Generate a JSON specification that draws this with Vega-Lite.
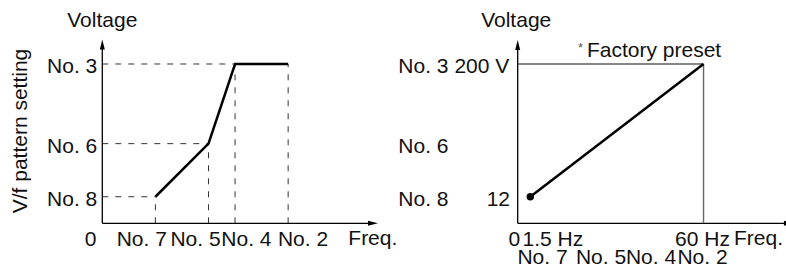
{
  "$schema": "https://vega.github.io/schema/vega-lite/v6.json",
  "width": 786,
  "height": 267,
  "autosize": "none",
  "padding": 0,
  "background": "white",
  "config": {"view": {"stroke": null}, "text": {"font": "Liberation Sans", "fontSize": 21, "color": "#111"}},
  "datasets": {
    "segments": [
      {"x": 0, "y": 0, "x2": 0, "y2": 6.7, "kind": "axis"},
      {"x": 0, "y": 0, "x2": 10.2, "y2": 0, "kind": "axis"},
      {"x": 15.646, "y": 0, "x2": 15.646, "y2": 6.7, "kind": "axis"},
      {"x": 15.646, "y": 0, "x2": 25.9, "y2": 0, "kind": "axis"},
      {"x": 0, "y": 1, "x2": 2, "y2": 1, "kind": "dash"},
      {"x": 0, "y": 3, "x2": 4, "y2": 3, "kind": "dash"},
      {"x": 0, "y": 6, "x2": 5, "y2": 6, "kind": "dash"},
      {"x": 2, "y": 0, "x2": 2, "y2": 1, "kind": "dash"},
      {"x": 4, "y": 0, "x2": 4, "y2": 3, "kind": "dash"},
      {"x": 5, "y": 0, "x2": 5, "y2": 6, "kind": "dash"},
      {"x": 7, "y": 0, "x2": 7, "y2": 6, "kind": "dash"},
      {"x": 15.646, "y": 6, "x2": 22.646, "y2": 6, "kind": "frame"},
      {"x": 22.646, "y": 0, "x2": 22.646, "y2": 6, "kind": "frameGray"}
    ],
    "curves": [
      {"series": "left", "order": 1, "x": 2, "y": 1},
      {"series": "left", "order": 2, "x": 4, "y": 3},
      {"series": "left", "order": 3, "x": 5, "y": 6},
      {"series": "left", "order": 4, "x": 7, "y": 6},
      {"series": "right", "order": 1, "x": 16.121, "y": 1},
      {"series": "right", "order": 2, "x": 22.646, "y": 6}
    ],
    "arrows": [
      {"x": 0, "y": 6.923, "dir": "up"},
      {"x": 10.384, "y": 0, "dir": "right"},
      {"x": 15.646, "y": 6.904, "dir": "up"},
      {"x": 26.05, "y": 0, "dir": "right"}
    ],
    "dots": [
      {"x": 16.121, "y": 1}
    ],
    "labels": [
      {"text": "Voltage", "x": 0, "y": 7.375, "anchor": "middle", "role": "title"},
      {"text": "V/f pattern setting", "x": -2.847, "y": 3.476, "anchor": "middle", "role": "ytitle"},
      {"text": "No. 3", "x": -0.188, "y": 5.642, "anchor": "end", "role": "ylabel"},
      {"text": "No. 6", "x": -0.188, "y": 2.629, "anchor": "end", "role": "ylabel"},
      {"text": "No. 8", "x": -0.188, "y": 0.633, "anchor": "end", "role": "ylabel"},
      {"text": "0", "x": -0.444, "y": -0.855, "anchor": "middle", "role": "xlabel"},
      {"text": "No. 7", "x": 1.488, "y": -0.855, "anchor": "middle", "role": "xlabel"},
      {"text": "No. 5", "x": 3.51, "y": -0.855, "anchor": "middle", "role": "xlabel"},
      {"text": "No. 4", "x": 5.427, "y": -0.855, "anchor": "middle", "role": "xlabel"},
      {"text": "No. 2", "x": 7.559, "y": -0.855, "anchor": "middle", "role": "xlabel"},
      {"text": "Freq.", "x": 9.266, "y": -0.8, "anchor": "start", "role": "xname"},
      {"text": "Voltage", "x": 15.59, "y": 7.375, "anchor": "middle", "role": "title"},
      {"text": "*", "x": 18.011, "y": 6.441, "anchor": "middle", "role": "star"},
      {"text": "Factory preset", "x": 18.256, "y": 6.282, "anchor": "start", "role": "note"},
      {"text": "No. 3", "x": 11.149, "y": 5.642, "anchor": "start", "role": "ylabel"},
      {"text": "200 V", "x": 15.33, "y": 5.642, "anchor": "end", "role": "ylabel"},
      {"text": "No. 6", "x": 11.149, "y": 2.629, "anchor": "start", "role": "ylabel"},
      {"text": "No. 8", "x": 11.149, "y": 0.633, "anchor": "start", "role": "ylabel"},
      {"text": "12", "x": 15.356, "y": 0.633, "anchor": "end", "role": "ylabel"},
      {"text": "0", "x": 15.52, "y": -0.855, "anchor": "middle", "role": "xlabel"},
      {"text": "1.5 Hz", "x": 15.83, "y": -0.855, "anchor": "start", "role": "xlabel"},
      {"text": "60 Hz", "x": 22.606, "y": -0.855, "anchor": "middle", "role": "xlabel"},
      {"text": "Freq.", "x": 23.793, "y": -0.8, "anchor": "start", "role": "xname"},
      {"text": "No. 7", "x": 16.58, "y": -1.52, "anchor": "middle", "role": "xlabel2"},
      {"text": "No. 5", "x": 18.783, "y": -1.52, "anchor": "middle", "role": "xlabel2"},
      {"text": "No. 4", "x": 20.667, "y": -1.52, "anchor": "middle", "role": "xlabel2"},
      {"text": "No. 2", "x": 22.606, "y": -1.52, "anchor": "middle", "role": "xlabel2"}
    ]
  },
  "encoding": {
    "x": {"field": "x", "type": "quantitative", "scale": {"domain": [-3.853, 25.752], "nice": false, "zero": false}, "axis": null},
    "y": {"field": "y", "type": "quantitative", "scale": {"domain": [-1.646, 8.41], "nice": false, "zero": false}, "axis": null}
  },
  "layer": [
    {
      "data": {"name": "segments"},
      "transform": [{"filter": "datum.kind === 'dash'"}],
      "mark": {"type": "rule", "color": "#333", "strokeWidth": 1, "strokeDash": [6, 7]},
      "encoding": {"x2": {"field": "x2"}, "y2": {"field": "y2"}}
    },
    {
      "data": {"name": "segments"},
      "transform": [{"filter": "datum.kind === 'axis'"}],
      "mark": {"type": "rule", "color": "#000", "strokeWidth": 1.3},
      "encoding": {"x2": {"field": "x2"}, "y2": {"field": "y2"}}
    },
    {
      "data": {"name": "segments"},
      "transform": [{"filter": "datum.kind === 'frame'"}],
      "mark": {"type": "rule", "color": "#111", "strokeWidth": 1.1},
      "encoding": {"x2": {"field": "x2"}, "y2": {"field": "y2"}}
    },
    {
      "data": {"name": "segments"},
      "transform": [{"filter": "datum.kind === 'frameGray'"}],
      "mark": {"type": "rule", "color": "#666", "strokeWidth": 1.4},
      "encoding": {"x2": {"field": "x2"}, "y2": {"field": "y2"}}
    },
    {
      "data": {"name": "curves"},
      "mark": {"type": "line", "color": "#000", "strokeWidth": 2.5, "strokeJoin": "miter", "strokeCap": "butt"},
      "encoding": {"detail": {"field": "series"}, "order": {"field": "order", "type": "quantitative"}}
    },
    {
      "data": {"name": "arrows"},
      "transform": [{"filter": "datum.dir === 'up'"}],
      "mark": {"type": "point", "shape": "M0,0L0.5,2L-0.5,2Z", "size": 100, "filled": true, "color": "#000", "opacity": 1}
    },
    {
      "data": {"name": "arrows"},
      "transform": [{"filter": "datum.dir === 'right'"}],
      "mark": {"type": "point", "shape": "M0,0L-2,-0.5L-2,0.5Z", "size": 100, "filled": true, "color": "#000", "opacity": 1}
    },
    {
      "data": {"name": "dots"},
      "mark": {"type": "point", "shape": "circle", "size": 55, "filled": true, "color": "#000", "opacity": 1}
    },
    {
      "data": {"name": "labels"},
      "transform": [{"filter": "datum.anchor === 'start' && datum.role !== 'star'"}],
      "mark": {"type": "text", "align": "left", "baseline": "alphabetic"},
      "encoding": {"text": {"field": "text"}}
    },
    {
      "data": {"name": "labels"},
      "transform": [{"filter": "datum.anchor === 'middle' && datum.role !== 'star' && datum.role !== 'ytitle'"}],
      "mark": {"type": "text", "align": "center", "baseline": "alphabetic"},
      "encoding": {"text": {"field": "text"}}
    },
    {
      "data": {"name": "labels"},
      "transform": [{"filter": "datum.anchor === 'end'"}],
      "mark": {"type": "text", "align": "right", "baseline": "alphabetic"},
      "encoding": {"text": {"field": "text"}}
    },
    {
      "data": {"name": "labels"},
      "transform": [{"filter": "datum.role === 'star'"}],
      "mark": {"type": "text", "align": "center", "baseline": "alphabetic", "fontSize": 13, "color": "#555"},
      "encoding": {"text": {"field": "text"}}
    },
    {
      "data": {"name": "labels"},
      "transform": [{"filter": "datum.role === 'ytitle'"}],
      "mark": {"type": "text", "align": "center", "baseline": "alphabetic", "angle": 270},
      "encoding": {"text": {"field": "text"}}
    }
  ]
}
